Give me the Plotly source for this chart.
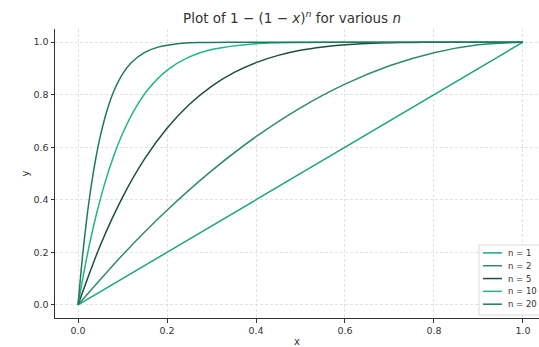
import plotly.graph_objects as go

# Data (curves y = 1 - (1 - x)^n)
x_n1 = [0.0, 1.0]
y_n1 = [0.0, 1.0]

x_n2 = [0.0, 0.1, 0.2, 0.3, 0.4, 0.5, 0.6, 0.7, 0.8, 0.9, 1.0]
y_n2 = [0.0, 0.19, 0.36, 0.51, 0.64, 0.75, 0.84, 0.91, 0.96, 0.99, 1.0]

x_n5 = [0.0, 0.05, 0.1, 0.15, 0.2, 0.25, 0.3, 0.35, 0.4, 0.45, 0.5, 0.55,
        0.6, 0.65, 0.7, 0.75, 0.8, 0.9, 1.0]
y_n5 = [0.0, 0.2262, 0.4095, 0.5563, 0.6723, 0.7627, 0.8319, 0.8840, 0.9222,
        0.9497, 0.9688, 0.9815, 0.9898, 0.9947, 0.9976, 0.9990, 0.9997, 1.0, 1.0]

x_n10 = [0.0, 0.02, 0.04, 0.06, 0.08, 0.1, 0.13, 0.16, 0.2, 0.25, 0.3, 0.4,
         0.5, 0.6, 0.8, 1.0]
y_n10 = [0.0, 0.1829, 0.3352, 0.4614, 0.5656, 0.6513, 0.7516, 0.8251, 0.8926,
         0.9437, 0.9718, 0.9940, 0.9990, 0.9999, 1.0, 1.0]

x_n20 = [0.0, 0.01, 0.02, 0.03, 0.04, 0.05, 0.065, 0.08, 0.1, 0.12, 0.15,
         0.18, 0.22, 0.27, 0.35, 0.5, 1.0]
y_n20 = [0.0, 0.1821, 0.3324, 0.4562, 0.5580, 0.6415, 0.7392, 0.8113, 0.8784,
         0.9224, 0.9612, 0.9811, 0.9931, 0.9982, 0.9998, 1.0, 1.0]

labels = ["n = 1", "n = 2", "n = 5", "n = 10", "n = 20"]
colors = ["#1ea57c", "#2e8b6e", "#1d4f40", "#22b488", "#1f7a5c"]
xs = [x_n1, x_n2, x_n5, x_n10, x_n20]
ys = [y_n1, y_n2, y_n5, y_n10, y_n20]

FONT = "DejaVu Sans"
TXT = "#333333"
W, H = 539, 347
ML, MR, MT, MB = 55, 0, 29, 25
PW, PH = W - ML - MR, H - MT - MB


def px_x(p):
    return (p - ML) / PW


def px_y(p):
    return (H - MB - p) / PH


fig = go.Figure()
for xv, yv, lab, col in zip(xs, ys, labels, colors):
    fig.add_trace(go.Scatter(
        x=xv, y=yv, mode="lines", name=lab, showlegend=False,
        line=dict(color=col, width=1.5, shape="spline", smoothing=0.8),
    ))

# Matplotlib-style compact legend (lower right)
shapes = [dict(type="rect", xref="paper", yref="paper",
               x0=px_x(479), x1=px_x(541), y0=px_y(319), y1=px_y(248),
               line=dict(color="#d0d0d0", width=0.8),
               fillcolor="rgba(255,255,255,0.85)", layer="above")]
annotations = []
for i, (lab, col) in enumerate(zip(labels, colors)):
    yy = 256 + 13 * i
    shapes.append(dict(type="line", xref="paper", yref="paper",
                       x0=px_x(483), x1=px_x(502), y0=px_y(yy), y1=px_y(yy),
                       line=dict(color=col, width=1.5), layer="above"))
    annotations.append(dict(text=lab, xref="paper", yref="paper",
                            x=px_x(506), y=px_y(yy), xanchor="left",
                            yanchor="middle", showarrow=False,
                            font=dict(family=FONT, size=8.5, color=TXT)))

axis_common = dict(
    showgrid=True, gridcolor="#e2e2e2", gridwidth=0.8, griddash="3px,2px",
    showline=True, linecolor="#333333", linewidth=1, mirror=False,
    ticks="outside", ticklen=3.5, tickwidth=0.8, tickcolor="#333333",
    tickfont=dict(family=FONT, size=9.5, color=TXT),
    zeroline=False,
)

fig.update_layout(
    width=W, height=H,
    margin=dict(l=ML, r=MR, t=MT, b=MB),
    paper_bgcolor="white", plot_bgcolor="white",
    font=dict(family=FONT, color=TXT),
    title=dict(
        text="Plot of 1 − (1 − <i>x</i>)<sup><i>n</i></sup> for various <i>n</i>",
        x=292 / 539, xanchor="center", xref="container",
        y=1 - 18 / 347, yanchor="middle", yref="container",
        font=dict(family=FONT, size=13.5, color=TXT),
    ),
    xaxis=dict(
        range=[-0.0517, 1.036], tickvals=[0.0, 0.2, 0.4, 0.6, 0.8, 1.0],
        ticktext=["0.0", "0.2", "0.4", "0.6", "0.8", "1.0"],
        title=dict(text="x", standoff=4, font=dict(family=FONT, size=10, color=TXT)),
        **axis_common,
    ),
    yaxis=dict(
        range=[-0.05, 1.05], tickvals=[0.0, 0.2, 0.4, 0.6, 0.8, 1.0],
        ticktext=["0.0", "0.2", "0.4", "0.6", "0.8", "1.0"],
        title=dict(text="y", standoff=1, font=dict(family=FONT, size=10, color=TXT)),
        **axis_common,
    ),
    shapes=shapes,
    annotations=annotations,
    showlegend=False,
)

fig.write_html("out.html")
